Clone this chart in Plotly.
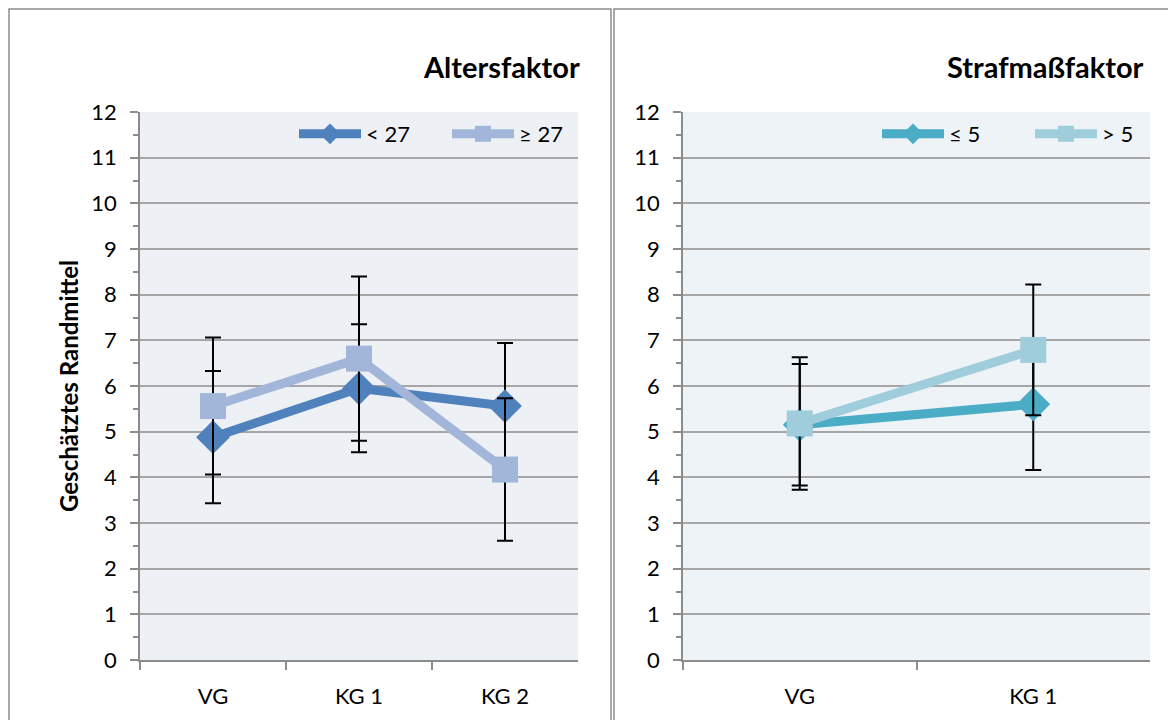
import plotly.graph_objects as go

# left panel: Altersfaktor
groups_left = ["VG", "KG 1", "KG 2"]
age_young = [4.88, 5.95, 5.56]
age_young_err = [1.45, 1.40, 1.38]
age_old = [5.56, 6.60, 4.17]
age_old_err = [1.50, 1.80, 1.56]

# right panel: Strafmaßfaktor
groups_right = ["VG", "KG 1"]
pen_low = [5.15, 5.60]
pen_low_err = [1.33, 1.44]
pen_high = [5.18, 6.79]
pen_high_err = [1.45, 1.43]

y_ticks = list(range(0, 13))

W, H = 1176, 720
OFF = 8  # page body margin
FONT = "Lato, Carlito, Calibri, sans-serif"


def px_x(v):
    return (v - OFF) / W


def px_y(v):
    return 1 - (v - OFF) / H


def series(x, y, err, name, color, symbol, msize, xa, ya, legend):
    return go.Scatter(
        x=x, y=y, name=name, mode="lines+markers",
        line=dict(color=color, width=9),
        marker=dict(symbol=symbol, size=msize, color=color),
        error_y=dict(type="data", array=err, visible=True,
                     color="black", thickness=2, width=8),
        xaxis=xa, yaxis=ya, legend=legend,
    )


fig = go.Figure()
fig.add_trace(series(groups_left, age_young, age_young_err, "< 27",
                     "#4F81BD", "diamond", 26, "x", "y", "legend"))
fig.add_trace(series(groups_left, age_old, age_old_err, "≥ 27",
                     "#A2B6D9", "square", 26, "x", "y", "legend"))
fig.add_trace(series(groups_right, pen_low, pen_low_err, "≤ 5",
                     "#4BACC6", "diamond", 26, "x2", "y2", "legend2"))
fig.add_trace(series(groups_right, pen_high, pen_high_err, "> 5",
                     "#9FCDDC", "square", 26, "x2", "y2", "legend2"))

xaxis_style = dict(
    type="category", tickson="boundaries", ticks="outside", ticklen=8,
    tickcolor="#8C8C8C", tickwidth=1.5, showgrid=False,
    showline=True, linecolor="#8C8C8C", linewidth=1.5,
    tickfont=dict(size=22, color="black", family=FONT),
    ticklabelstandoff=16, automargin=False, fixedrange=True,
)
yaxis_style = dict(
    range=[0, 12], tickvals=y_ticks, ticks="outside", ticklen=8,
    tickcolor="#8C8C8C", tickwidth=1.5,
    showgrid=True, gridcolor="#A6A6A6", gridwidth=2,
    showline=True, linecolor="#8C8C8C", linewidth=1.5, zeroline=False,
    minor=dict(dtick=0.5, ticks="outside", ticklen=5, tickcolor="#8C8C8C",
               tickwidth=1.5, showgrid=False),
    tickfont=dict(size=22, color="black", family=FONT),
    ticklabelstandoff=9, automargin=False, fixedrange=True,
)

plot_top, plot_bottom = 112, 660
legend_style = dict(orientation="h", y=px_y(134), yanchor="middle",
                    xanchor="left", font=dict(size=22, family=FONT),
                    bgcolor="rgba(0,0,0,0)", itemwidth=62, entrywidth=76)

fig.update_layout(
    width=W, height=H, autosize=False,
    margin=dict(l=0, r=0, t=0, b=0, pad=0),
    paper_bgcolor="white",
    plot_bgcolor="#EDF0F5",
    font=dict(family=FONT, color="black"),
    xaxis=dict(xaxis_style, range=[-0.5, len(groups_left) - 0.5],
               domain=[px_x(140), px_x(578)], anchor="y"),
    yaxis=dict(yaxis_style, domain=[px_y(plot_bottom), px_y(plot_top)], anchor="x"),
    xaxis2=dict(xaxis_style, range=[-0.5, len(groups_right) - 0.5],
                domain=[px_x(683), px_x(1150)], anchor="y2"),
    yaxis2=dict(yaxis_style, domain=[px_y(plot_bottom), px_y(plot_top)], anchor="x2"),
    legend=dict(legend_style, x=px_x(294)),
    legend2=dict(legend_style, x=px_x(877)),
    showlegend=True,
)

# right plot area gets a slightly different tint
fig.add_shape(type="rect", xref="x2 domain", yref="y2 domain",
              x0=0, x1=1, y0=0, y1=1, fillcolor="#EEF3F8",
              line=dict(width=0), layer="below")

# panel frames
fig.add_shape(type="rect", xref="paper", yref="paper",
              x0=px_x(9), x1=px_x(611), y0=px_y(740), y1=px_y(9),
              line=dict(color="#8C8C8C", width=1.5))
fig.add_shape(type="rect", xref="paper", yref="paper",
              x0=px_x(614), x1=px_x(1200), y0=px_y(740), y1=px_y(9),
              line=dict(color="#8C8C8C", width=1.5))

fig.add_annotation(text="<b>Altersfaktor</b>", xref="paper", yref="paper",
                   x=px_x(582), y=px_y(66), xanchor="right", yanchor="middle",
                   showarrow=False, font=dict(size=29, family=FONT))
fig.add_annotation(text="<b>Strafmaßfaktor</b>", xref="paper", yref="paper",
                   x=px_x(1146), y=px_y(66), xanchor="right", yanchor="middle",
                   showarrow=False, font=dict(size=29, family=FONT))
fig.add_annotation(text="<b>Geschätztes Randmittel</b>", xref="paper", yref="paper",
                   x=px_x(68), y=px_y(386), textangle=-90,
                   xanchor="center", yanchor="middle",
                   showarrow=False, font=dict(size=24, family=FONT))

fig.write_html("out.html")
